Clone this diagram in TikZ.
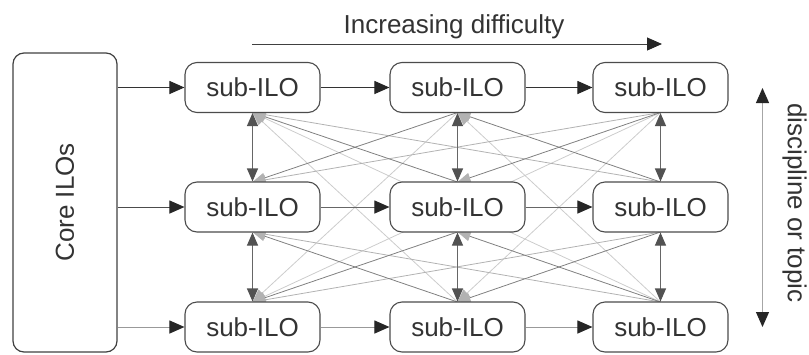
\documentclass[tikz,border=0pt]{standalone}
\usepackage{fontspec}
\setmainfont{Liberation Sans}
\usetikzlibrary{arrows.meta}
\begin{document}
\begin{tikzpicture}[x=1pt,y=-1pt,
  lbl/.style={text=black!80, font=\fontsize{26}{30}\selectfont, inner sep=0pt},
  box/.style={lbl, draw=black!70, line width=1.1pt, rounded corners=12pt,
    minimum width=135pt, minimum height=50pt, fill=white},
  core/.style={draw=black!75, line width=1.2pt, rounded corners=11pt,
    minimum width=104pt, minimum height=299pt, inner sep=0pt},
  bigtip/.style={-{Triangle[length=15pt,width=13pt,color=black!85]}},
  harr/.style={line width=1pt, bigtip},
  varr/.style={line width=1.1pt, draw=black!60,
    {Triangle[length=13pt,width=11pt,color=black!68]}-{Triangle[length=13pt,width=11pt,color=black!68]}},
  crs/.style={line width=0.8pt,
    {Triangle[length=13pt,width=10pt,color=black!30]}-},
  near/.style={crs, draw=black!50},
  far/.style={crs, draw=black!30},
  farther/.style={crs, draw=black!20},
]
\useasboundingbox (0,0) rectangle (809,354);

% core box
\node[core] (core) at (65,202.5) {};
\node[lbl, rotate=90] (coretxt) at (core.center) {Core ILOs};

% sub-ILO positions
\def\xa{252.5}\def\xb{457.5}\def\xc{660.5}
\def\ya{87.5}\def\yb{207}\def\yc{327}

% cross lines first (behind boxes)
\coordinate (p11s) at (\xa,112.5); \coordinate (p12s) at (\xb,112.5); \coordinate (p13s) at (\xc,112.5);
\coordinate (p21n) at (\xa,182);   \coordinate (p22n) at (\xb,182);   \coordinate (p23n) at (\xc,182);
\coordinate (p21s) at (\xa,232);   \coordinate (p22s) at (\xb,232);   \coordinate (p23s) at (\xc,232);
\coordinate (p31n) at (\xa,302);   \coordinate (p32n) at (\xb,302);   \coordinate (p33n) at (\xc,302);

\draw[farther] (p11s) -- (p32n);
\draw[farther] (p31n) -- (p12s);
\draw[farther] (p11s) -- (p33n);
\draw[farther] (p31n) -- (p13s);
\draw[farther] (p12s) -- (p33n);
\draw[farther] (p32n) -- (p13s);
\draw[far] (p11s) -- (p23n);
\draw[far] (p21n) -- (p13s);
\draw[far] (p21s) -- (p33n);
\draw[far] (p31n) -- (p23s);
\draw[near] (p11s) -- (p22n);
\draw[near] (p21n) -- (p12s);
\draw[near] (p21s) -- (p32n);
\draw[near] (p31n) -- (p22s);
\draw[near] (p12s) -- (p23n);
\draw[near] (p22n) -- (p13s);
\draw[near] (p22s) -- (p33n);
\draw[near] (p32n) -- (p23s);

% boxes
\node[box] (n11) at (\xa,\ya) {sub-ILO};
\node[box] (n12) at (\xb,\ya) {sub-ILO};
\node[box] (n13) at (\xc,\ya) {sub-ILO};
\node[box] (n21) at (\xa,\yb) {sub-ILO};
\node[box] (n22) at (\xb,\yb) {sub-ILO};
\node[box] (n23) at (\xc,\yb) {sub-ILO};
\node[box] (n31) at (\xa,\yc) {sub-ILO};
\node[box] (n32) at (\xb,\yc) {sub-ILO};
\node[box] (n33) at (\xc,\yc) {sub-ILO};

% core arrows
\draw[harr, draw=black!80] (core.east |- n11.west) -- (n11.west);
\draw[harr, draw=black!70] (core.east |- n21.west) -- (n21.west);
\draw[harr, draw=black!40] (core.east |- n31.west) -- (n31.west);

% horizontal arrows
\draw[harr, draw=black!80] (n11.east) -- (n12.west);
\draw[harr, draw=black!80] (n12.east) -- (n13.west);
\draw[harr, draw=black!60] (n21.east) -- (n22.west);
\draw[harr, draw=black!60] (n22.east) -- (n23.west);
\draw[harr, draw=black!40] (n31.east) -- (n32.west);
\draw[harr, draw=black!40] (n32.east) -- (n33.west);

% vertical double arrows
\draw[varr] (n11.south) -- (n21.north);
\draw[varr] (n12.south) -- (n22.north);
\draw[varr] (n13.south) -- (n23.north);
\draw[varr] (n21.south) -- (n31.north);
\draw[varr] (n22.south) -- (n32.north);
\draw[varr] (n23.south) -- (n33.north);

% increasing difficulty
\coordinate (d1) at (252,44);
\coordinate (d2) at (662,44);
\draw[harr, draw=black!75] (d1) -- (d2);
\node[lbl, anchor=base] (difftxt) at (454,33) {Increasing difficulty};

% discipline or topic
\coordinate (t1) at (762.5,88);
\coordinate (t2) at (762.5,327);
\draw[line width=1pt, draw=black!35,
  {Triangle[length=15pt,width=13pt,color=black!85]}-{Triangle[length=15pt,width=13pt,color=black!85]}] (t1) -- (t2);
\node[lbl, rotate=-90] (disctxt) at (794.5,203) {discipline or topic};
\end{tikzpicture}
\end{document}
